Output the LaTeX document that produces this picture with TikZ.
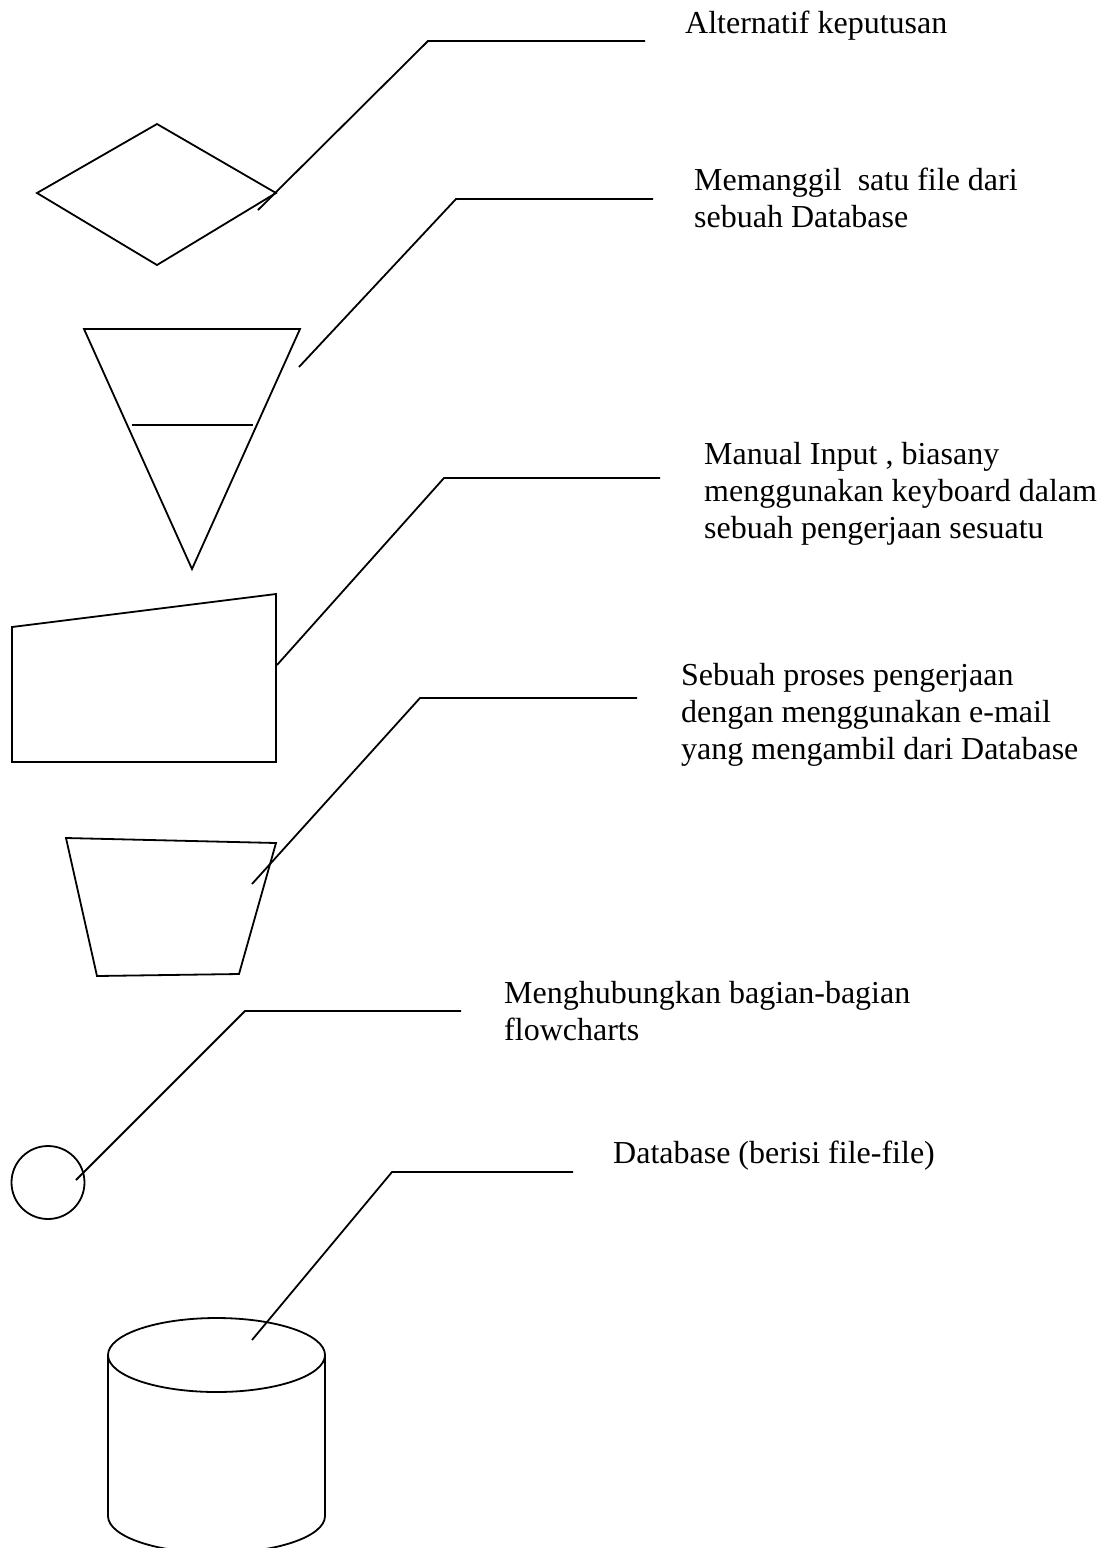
\documentclass[tikz,border=0pt]{standalone}
\usepackage{fontspec}
\setmainfont{Liberation Serif}
\begin{document}
\begin{tikzpicture}[x=1pt,y=-1pt,
  shape line/.style={line width=1.8pt,line join=miter},
  leader/.style={line width=1.8pt},
  caption/.style={anchor=base west,inner sep=0pt,font=\fontsize{32}{37}\selectfont}]
\useasboundingbox (0,0) rectangle (1104,1548);
\clip (0,0) rectangle (1104,1548);

% --- flowchart symbols ---
% decision
\draw[shape line] (37,193) -- (157,124) -- (276,193) -- (157,265) -- cycle;
% offline storage (extract)
\draw[shape line] (84,329) -- (300,329) -- (192,569) -- cycle;
\draw[shape line] (132,425) -- (253,425);
% manual input
\draw[shape line] (12,627) -- (276,594) -- (276,762) -- (12,762) -- cycle;
% manual operation
\draw[shape line] (66,838) -- (276,843) -- (239,974) -- (97,976) -- cycle;
% connector
\draw[shape line] (48,1182.5) circle[radius=36.5];
% database cylinder
\draw[shape line] (216.5,1355) ellipse[x radius=108.5, y radius=37];
\draw[shape line] (108,1355) -- (108,1516)
  arc[start angle=180, end angle=0, x radius=108.5, y radius=37]
  -- (325,1355);

% --- leader line anchor points ---
\coordinate (dec-tip)  at (258,210);
\coordinate (dec-bend) at (428,41);
\coordinate (dec-end)  at (645,41);
\coordinate (ext-tip)  at (299,367);
\coordinate (ext-bend) at (456,199);
\coordinate (ext-end)  at (653,199);
\coordinate (inp-tip)  at (277,665);
\coordinate (inp-bend) at (444,478);
\coordinate (inp-end)  at (660,478);
\coordinate (man-tip)  at (252,884);
\coordinate (man-bend) at (420,698);
\coordinate (man-end)  at (637,698);
\coordinate (con-tip)  at (76,1180);
\coordinate (con-bend) at (245,1011);
\coordinate (con-end)  at (461,1011);
\coordinate (db-tip)   at (252,1340);
\coordinate (db-bend)  at (392,1172);
\coordinate (db-end)   at (573,1172);

\draw[leader] (dec-tip) -- (dec-bend) -- (dec-end);
\draw[leader] (ext-tip) -- (ext-bend) -- (ext-end);
\draw[leader] (inp-tip) -- (inp-bend) -- (inp-end);
\draw[leader] (man-tip) -- (man-bend) -- (man-end);
\draw[leader] (con-tip) -- (con-bend) -- (con-end);
\draw[leader] (db-tip) -- (db-bend) -- (db-end);

% --- descriptions ---
\node[caption] (t-dec) at (685,33) {Alternatif keputusan};
\node[caption] (t-ext) at (694,190)
  {\vtop{\hbox{Memanggil\ \ satu file dari}\hbox{sebuah Database}}};
\node[caption] (t-inp) at (704,464)
  {\vtop{\hbox{Manual Input , biasany}\hbox{menggunakan keyboard dalam}\hbox{sebuah pengerjaan sesuatu}}};
\node[caption] (t-man) at (681,685)
  {\vtop{\hbox{Sebuah proses pengerjaan}\hbox{dengan menggunakan e-mail}\hbox{yang mengambil dari Database}}};
\node[caption] (t-con) at (504,1003)
  {\vtop{\hbox{Menghubungkan bagian-bagian}\hbox{flowcharts}}};
\node[caption] (t-db) at (613,1163) {Database (berisi file-file)};
\end{tikzpicture}
\end{document}
